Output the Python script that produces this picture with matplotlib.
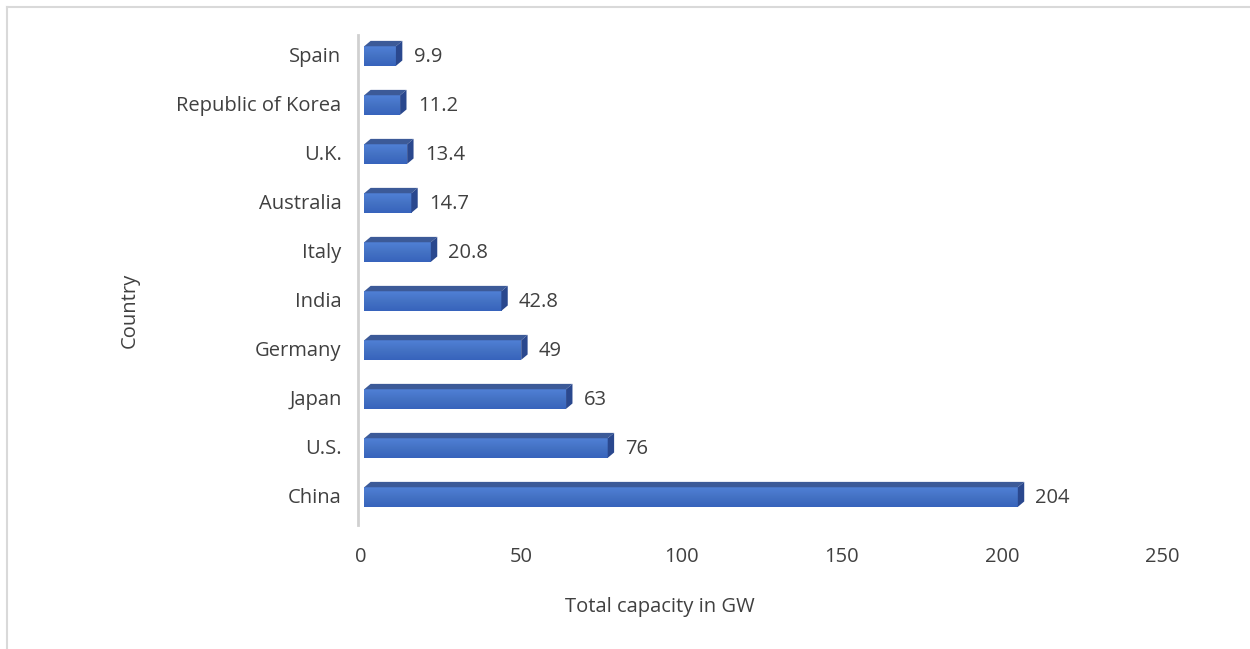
import numpy as np
import matplotlib.pyplot as plt
from matplotlib.patches import Polygon
from matplotlib.lines import Line2D
from matplotlib.colors import LinearSegmentedColormap

countries = ["China", "U.S.", "Japan", "Germany", "India", "Italy",
             "Australia", "U.K.", "Republic of Korea", "Spain"]
capacity = [204, 76, 63, 49, 42.8, 20.8, 14.7, 13.4, 11.2, 9.9]
labels = ["204", "76", "63", "49", "42.8", "20.8", "14.7", "13.4", "11.2", "9.9"]

plt.rcParams['font.family'] = ['Open Sans', 'DejaVu Sans']
txt = "#404040"
fs = 14.5

fig = plt.figure(figsize=(12.5, 6.49), dpi=100)
ax = fig.add_axes([361 / 1250, 1 - 525 / 649, 801 / 1250, 490 / 649])

h = 0.40      # front face height
dx = 2.0      # depth, x units
dy = 0.11     # depth, category units
ypos = list(range(len(countries)))

# front faces: vertical gradient, lighter at the top
grad = LinearSegmentedColormap.from_list("face", ["#3763BC", "#4472C4", "#5080D6"])
g = np.linspace(0, 1, 64).reshape(-1, 1)
bars = ax.barh([y - 0.03 for y in ypos], capacity, left=1, height=h,
               color="#4472C4", edgecolor="none", zorder=3)
for b in bars:
    x0, y0 = b.get_x(), b.get_y()
    im = ax.imshow(g, cmap=grad, aspect="auto", origin="lower", zorder=3.1,
                   extent=(x0, x0 + b.get_width(), y0, y0 + b.get_height()))
    im.set_clip_path(b)

for b in bars:
    x0, y0, w = b.get_x(), b.get_y(), b.get_width()
    x1, y1 = x0 + w, y0 + h
    top = [(x0, y1), (x1, y1), (x1 + dx, y1 + dy), (x0 + dx, y1 + dy)]
    side = [(x1, y0), (x1 + dx, y0 + dy), (x1 + dx, y1 + dy), (x1, y1)]
    ax.add_patch(Polygon(top, closed=True, color="#3C5A98", lw=0, zorder=3.2))
    ax.add_patch(Polygon(side, closed=True, color="#2A488E", lw=0, zorder=3.2))

for y, v, s in zip(ypos, capacity, labels):
    ax.text(v + dx + 4.5, y - 0.05, s, va="center", ha="left", fontsize=fs, color=txt)

ax.set_xlim(0, 250)
ax.set_ylim(-0.6, 9.4)
ax.set_xticks([0, 50, 100, 150, 200, 250])
ax.set_yticks(ypos)
ax.set_yticklabels(countries)
ax.tick_params(axis="both", length=0, labelsize=fs, labelcolor=txt)
ax.tick_params(axis="x", pad=16)
ax.tick_params(axis="y", pad=12)
for s in ["top", "right", "bottom"]:
    ax.spines[s].set_visible(False)
ax.spines["left"].set_color("#D0D0D0")
ax.spines["left"].set_linewidth(2)
ax.spines["left"].set_position(("outward", 2))

ax.set_xlabel("Total capacity in GW", fontsize=fs, color=txt)
ax.xaxis.set_label_coords((660 - 361) / 801, -(607 - 525) / 490)
ax.xaxis.label.set_va("center")
ax.set_ylabel("Country", fontsize=fs, color=txt)
ax.yaxis.set_label_coords((130 - 361) / 801, (525 - 310) / 490)
ax.yaxis.label.set_va("center")

# chart border (left and top edges visible)
fig.add_artist(Line2D([7 / 1250, 7 / 1250], [0, 1 - 7 / 649], transform=fig.transFigure,
                      color="#D9D9D9", lw=1.5))
fig.add_artist(Line2D([7 / 1250, 1], [1 - 7 / 649, 1 - 7 / 649], transform=fig.transFigure,
                      color="#D9D9D9", lw=1.5))

fig.savefig("out.png", dpi=100)
